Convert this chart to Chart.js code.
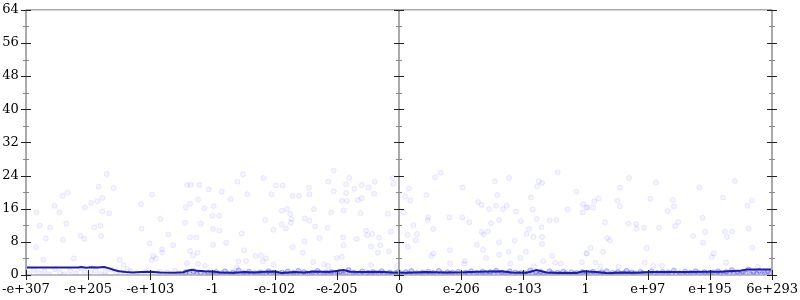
<!DOCTYPE html>
<html>
<head>
<meta charset="utf-8">
<script src="https://cdn.jsdelivr.net/npm/chart.js@4/dist/chart.umd.min.js"></script>
<style>
  html,body{margin:0;padding:0;background:#fff}
  #wrap{width:800px;height:300px;position:relative}
</style>
</head>
<body>
<div id="wrap"><canvas id="c"></canvas></div>
<script>
// tick labels for the 13 positions along x
const xLabels = ['-e+307','-e+205','-e+103','-1','-e-102','-e-205','0','e-206','e-103','1','e+97','e+195','6e+293']

// scattered samples, upper cloud
const highX = [1.30,0.67,0.59,1.17,1.41,0.46,0.17,0.54,0.95,1.05,1.15,1.23,1.23,1.34,0.22,0.39,0.65,1.10,1.20,0.32,0.60,0.88,0.94,1.21,0.16,0.28,0.77,1.51,1.57,1.63,
  1.85,2.03,2.16,1.86,1.99,2.29,2.37,2.19,2.19,2.05,2.09,2.02,2.59,2.65,2.79,2.94,2.77,2.64,2.57,2.87,3.00,2.56,2.81,3.01,2.64,2.74,3.01,2.64,2.69,2.76,2.59,2.77,2.88,
  3.49,4.95,3.40,3.82,4.02,4.13,4.86,5.15,5.20,5.28,5.40,5.51,5.61,5.90,5.91,3.15,3.56,3.95,4.55,4.56,4.29,4.39,4.95,5.15,5.08,5.16,5.34,5.40,5.60,3.29,3.02,3.11,
  4.20,4.12,4.25,4.27,4.26,3.85,4.11,4.18,3.98,4.48,4.56,4.63,4.91,5.11,4.65,4.85,5.38,5.82,3.11,3.47,3.22,3.51,3.69,3.78,3.86,3.81,3.42,3.54,4.29,4.45,4.48,4.72,
  5.10,5.11,5.32,5.47,5.49,5.57,5.55,5.68,5.70,5.66,5.84,5.87,5.00,5.08,4.62,4.79,4.86,3.98,3.39,5.55,5.97,
  6.67,6.58,8.55,6.16,7.54,7.77,8.25,8.22,8.30,7.02,6.10,6.18,6.44,7.58,8.12,8.85,8.96,9.01,8.95,8.71,7.27,7.33,7.45,7.56,7.67,7.73,7.88,8.15,6.07,6.47,6.46,6.81,
  7.02,7.13,7.61,7.96,8.21,8.42,8.53,7.48,6.23,6.55,8.09,8.29,6.14,6.29,6.27,7.33,7.36,7.43,8.05,8.16,8.30,7.86,7.61,7.25,8.30,6.14,6.82,7.35,7.76,8.04,6.55,6.52,
  7.61,7.40,7.95,8.46,9.01,7.06,6.82,8.32,8.51,8.60,8.94,7.79,7.05,8.17,
  9.70,11.40,10.13,9.55,10.83,9.21,9.14,9.51,10.04,10.40,11.21,11.67,9.03,9.12,9.55,10.42,11.60,10.32,10.88,9.31,9.69,9.81,9.82,9.94,10.18,10.44,10.49,10.92,11.24,
  11.36,11.27,11.62,10.73,9.35,9.39,10.89,9.08,9.98,11.68,9.02,9.28,11.06,11.03,9.16,9.95,9.24,10.09,10.23,11.26,11.77,9.53]
const highY = [24.4,19.9,19.1,21.3,21.0,16.7,15.1,15.1,16.3,17.4,17.8,18.6,15.3,14.9,11.9,11.4,12.4,11.5,11.9,8.8,8.5,9.5,8.7,9.4,6.7,3.7,4.0,3.7,2.4,1.4,
  17.1,19.4,13.5,11.2,7.6,9.8,7.2,6.2,5.4,4.6,4.0,3.6,21.7,21.7,21.7,20.7,18.2,17.2,16.3,16.1,14.3,12.6,12.4,11.1,9.1,9.1,7.3,5.8,4.7,5.4,2.9,2.7,2.2,
  24.3,25.2,22.5,23.4,21.6,21.6,22.5,21.9,23.4,20.8,21.7,21.1,22.5,23.4,22.0,20.1,19.5,19.5,21.1,19.5,19.1,19.1,20.2,19.8,17.9,17.9,18.1,18.5,19.6,18.3,16.6,14.3,
  15.9,15.5,14.7,13.5,12.6,13.3,12.2,11.2,10.9,13.7,13.1,15.9,15.1,15.6,11.7,11.4,14.9,14.8,10.7,10.0,7.8,6.0,4.6,4.7,4.0,3.3,3.3,3.4,6.7,5.4,8.1,8.9,
  9.1,7.2,8.7,10.7,9.6,9.9,6.9,9.0,7.2,5.4,5.7,10.5,4.1,4.4,3.1,2.6,2.2,2.5,1.9,2.4,2.2,
  24.7,23.6,24.8,20.9,22.6,23.4,22.6,21.4,22.2,21.1,19.0,18.0,19.3,19.3,18.7,20.1,17.1,16.3,15.1,15.8,17.6,16.9,15.9,16.7,15.9,16.7,15.3,15.8,15.1,13.9,13.3,13.9,
  13.9,12.7,13.3,13.0,13.5,13.2,13.3,12.5,12.0,11.1,11.1,11.5,9.7,9.9,8.4,10.4,9.8,10.5,9.9,9.2,9.2,8.3,7.9,7.3,7.5,6.8,6.0,6.1,5.6,5.6,5.2,4.6,
  4.9,4.1,4.1,4.6,5.2,3.4,2.8,3.4,3.0,2.8,3.1,2.7,2.7,2.1,
  23.4,22.7,22.3,21.1,21.1,18.4,17.8,17.9,18.4,18.1,18.7,18.0,16.3,16.3,16.6,16.6,16.7,15.4,13.8,12.7,12.4,12.3,11.2,11.4,11.4,11.8,12.8,10.4,10.5,
  10.5,9.2,11.2,9.4,8.9,8.4,7.8,6.5,6.5,6.6,5.2,5.6,5.2,4.4,3.0,3.0,2.1,2.2,2.2,3.0,2.0,2.0]

// scattered samples, dense band near zero
const lowX = [0.05,0.13,0.21,0.30,0.38,0.47,0.55,0.62,0.71,0.80,0.88,0.95,
  1.04,1.12,1.20,1.28,1.37,1.45,1.52,1.60,1.68,1.77,1.85,1.93,
  2.02,2.08,2.15,2.20,2.27,2.33,2.40,2.46,2.51,2.57,2.63,2.70,2.75,2.81,2.88,2.93,2.98,
  3.02,3.06,3.11,3.15,3.20,3.24,3.29,3.33,3.37,3.42,3.46,3.50,3.55,3.59,3.63,3.68,3.72,3.77,3.81,3.86,3.90,3.94,3.98,
  4.03,4.07,4.12,4.16,4.21,4.25,4.30,4.34,4.38,4.43,4.47,4.52,4.56,4.60,4.65,4.69,4.74,4.78,4.83,4.87,4.91,4.96,
  5.01,5.05,5.10,5.14,5.19,5.23,5.27,5.32,5.36,5.41,5.45,5.50,5.54,5.58,5.63,5.67,5.72,5.76,5.81,5.85,5.90,5.94,5.98,
  6.02,6.07,6.11,6.16,6.20,6.24,6.29,6.33,6.38,6.42,6.47,6.51,6.55,6.60,6.64,6.69,6.73,6.78,6.82,6.86,6.91,6.95,
  7.03,7.07,7.12,7.16,7.21,7.25,7.30,7.34,7.39,7.43,7.47,7.52,7.56,7.61,7.65,7.70,7.74,7.78,7.83,7.87,7.92,7.96,
  8.02,8.06,8.11,8.15,8.20,8.24,8.28,8.33,8.37,8.42,8.46,8.50,8.55,8.59,8.64,8.68,8.73,8.77,8.82,8.86,8.90,8.95,8.99,
  9.03,9.08,9.12,9.17,9.21,9.26,9.30,9.34,9.39,9.43,9.48,9.52,9.57,9.61,9.66,9.70,9.74,9.79,9.83,9.88,9.92,9.97,
  10.02,10.06,10.11,10.15,10.20,10.24,10.29,10.33,10.38,10.42,10.46,10.51,10.55,10.60,10.64,10.69,10.73,10.77,10.82,10.86,10.91,10.95,10.99,
  11.04,11.08,11.13,11.17,11.22,11.26,11.31,11.35,11.39,11.44,11.48,11.53,11.57,11.62,11.66,11.70,11.75,11.79,11.84,11.88,11.93,11.97]
const lowY = [0.3,1.2,0.5,0.9,0.1,1.4,0.6,0.2,1.0,0.4,1.6,0.7,
  0.5,1.1,0.2,0.8,1.3,0.3,0.6,0.1,0.9,0.4,0.2,0.7,
  0.4,0.1,0.8,0.3,0.6,0.2,1.0,0.5,0.1,0.7,0.3,0.9,0.2,0.5,0.1,0.6,0.3,
  0.2,0.7,0.1,0.4,0.9,0.3,0.05,0.6,0.25,1.1,0.15,0.5,0.3,0.8,0.1,0.45,0.2,0.65,0.35,0.1,0.9,0.3,0.5,
  0.4,0.1,0.6,0.25,0.85,0.05,0.5,0.3,1.0,0.15,0.7,0.35,0.1,0.55,0.2,0.95,0.4,0.1,0.6,0.3,0.75,0.2,
  0.3,0.8,0.15,0.5,1.2,0.25,0.6,0.05,0.4,0.85,0.2,0.55,0.1,0.7,0.35,0.15,0.9,0.45,0.2,0.6,0.1,0.4,0.7,
  0.5,0.1,0.7,0.3,0.95,0.2,0.45,0.05,0.6,0.3,0.8,0.15,0.5,0.25,1.0,0.4,0.1,0.65,0.3,0.55,0.15,0.75,
  0.2,0.6,0.35,0.9,0.1,0.5,0.25,0.8,0.45,0.05,0.7,0.3,1.05,0.2,0.55,0.1,0.4,0.85,0.15,0.6,0.3,0.5,
  0.4,0.15,1.1,0.3,0.6,0.05,0.75,0.35,0.2,0.9,0.45,0.1,0.55,0.25,0.8,0.4,0.1,0.65,0.3,0.5,0.15,0.7,0.35,
  0.55,0.2,0.8,0.1,0.4,0.65,0.25,0.9,0.05,0.5,0.3,0.7,0.15,0.45,1.0,0.2,0.6,0.35,0.1,0.75,0.4,0.25,
  0.3,0.85,0.15,0.5,0.25,0.7,0.05,0.6,0.35,1.05,0.2,0.45,0.1,0.8,0.3,0.55,0.15,0.9,0.4,0.2,0.65,0.1,0.5,
  0.6,0.2,0.9,0.35,0.1,0.7,0.45,1.2,0.25,0.55,0.15,0.8,0.4,1.3,0.1,0.65,0.3,1.0,0.2,0.5,0.85,0.35]

// running error curve
const lineX = [0,0.84,0.89,0.97,1.05,1.16,1.26,1.34,1.42,1.50,1.61,1.72,1.85,2.01,2.16,2.40,2.53,2.61,2.67,2.75,2.88,3.01,3.12,3.36,3.52,3.68,3.84,3.99,
  4.12,4.31,4.47,4.63,4.87,5.11,5.22,5.43,5.67,5.90,6.14,6.43,6.70,7.05,7.26,7.66,7.81,8.05,8.21,8.37,8.61,8.85,8.96,9.17,9.36,9.57,9.81,10.04,10.28,10.60,
  10.92,11.16,11.36,11.48,11.59,12]
const lineY = [1.8,1.8,1.9,1.75,1.85,1.8,1.9,1.6,1.2,0.9,0.7,0.6,0.75,0.8,0.6,0.55,0.65,1.1,1.25,1.0,0.9,0.85,0.6,0.55,0.7,0.6,0.8,0.85,
  0.5,0.7,0.6,0.85,0.75,1.2,0.8,0.7,0.8,0.6,0.55,0.75,0.6,0.65,0.8,0.9,0.6,0.55,1.2,0.6,0.5,0.5,0.9,0.7,0.4,0.6,0.55,0.7,0.75,0.7,
  0.8,0.8,0.95,1.0,1.35,1.35]

const yMax = 64, yStep = 8

const upper = highX.map((x,i)=>({x, y:highY[i]}))
const band = lowX.map((x,i)=>({x, y:lowY[i]}))
const curve = lineX.map((x,i)=>({x, y:lineY[i]}))

const axisGray = '#aaaaaa'
const font = {family:'DejaVu Serif', size:13}

// frame + gnuplot style inward/outward ticks
const frame = {
  id:'frame',
  afterDraw(chart){
    const {ctx, chartArea:a, scales:{x, y}} = chart
    ctx.save()
    ctx.strokeStyle = axisGray
    ctx.lineWidth = 2
    ctx.beginPath()
    for (const v of [0, 6, 12]) {
      const px = Math.round(x.getPixelForValue(v))
      ctx.moveTo(px, a.top); ctx.lineTo(px, a.bottom)
    }
    ctx.stroke()
    ctx.lineWidth = 1.5
    ctx.beginPath()
    ctx.moveTo(a.left, a.top); ctx.lineTo(a.right, a.top)
    ctx.moveTo(a.left, a.bottom); ctx.lineTo(a.right, a.bottom)
    ctx.stroke()

    ctx.lineWidth = 1
    for (const v of [0, 6, 12]) {
      const px = Math.round(x.getPixelForValue(v))
      for (let t = 0; t <= yMax; t += yStep/2) {
        const py = Math.round(y.getPixelForValue(t)) + 0.5
        const major = t % yStep === 0
        const len = major ? 5 : 3
        ctx.strokeStyle = major ? '#222' : '#888'
        ctx.beginPath(); ctx.moveTo(px-len, py); ctx.lineTo(px+len, py); ctx.stroke()
      }
    }
    ctx.strokeStyle = '#222'
    for (let v = 0; v <= 12; v++) {
      const px = Math.round(x.getPixelForValue(v)) + 0.5
      ctx.beginPath(); ctx.moveTo(px, a.bottom-5); ctx.lineTo(px, a.bottom+5); ctx.stroke()
    }
    ctx.restore()
  }
}

new Chart(document.getElementById('c'), {
  type:'scatter',
  data:{datasets:[
    {label:'curve', data:curve, showLine:true, borderColor:'#1e1e9a', borderWidth:2, pointRadius:0, tension:0, order:0},
    {label:'band', data:band, pointRadius:2.5, pointBorderWidth:1,
      backgroundColor:c=>c.raw && c.raw.x < 2.5 ? 'rgba(40,40,255,0.06)' : 'rgba(40,40,255,0.22)',
      borderColor:c=>c.raw && c.raw.x < 2.5 ? 'rgba(40,40,255,0.10)' : 'rgba(40,40,255,0.30)', order:1},
    {label:'upper', data:upper, pointRadius:2.5, pointBorderWidth:1,
      backgroundColor:'rgba(40,40,255,0.05)', borderColor:'rgba(40,40,255,0.09)', order:2},
  ]},
  options:{
    responsive:true, maintainAspectRatio:false, animation:false,
    layout:{padding:{top:7, right:22, left:0, bottom:0}},
    plugins:{legend:{display:false}, tooltip:{enabled:false}},
    scales:{
      x:{type:'linear', min:0, max:12,
        afterFit:s=>{s.height = 25},
        border:{display:false},
        grid:{display:true, drawOnChartArea:false, drawTicks:true, tickLength:5, color:'rgba(0,0,0,0)'},
        ticks:{stepSize:1, autoSkip:false, maxRotation:0, padding:2, color:'#000', font, callback:v=>xLabels[v]}},
      y:{min:0, max:yMax,
        afterFit:s=>{s.width = 24},
        border:{display:false},
        grid:{display:true, drawOnChartArea:false, drawTicks:true, tickLength:5, color:'rgba(0,0,0,0)'},
        ticks:{stepSize:yStep, padding:2, color:'#000', font}}
    }
  },
  plugins:[frame]
})
</script>
</body>
</html>
